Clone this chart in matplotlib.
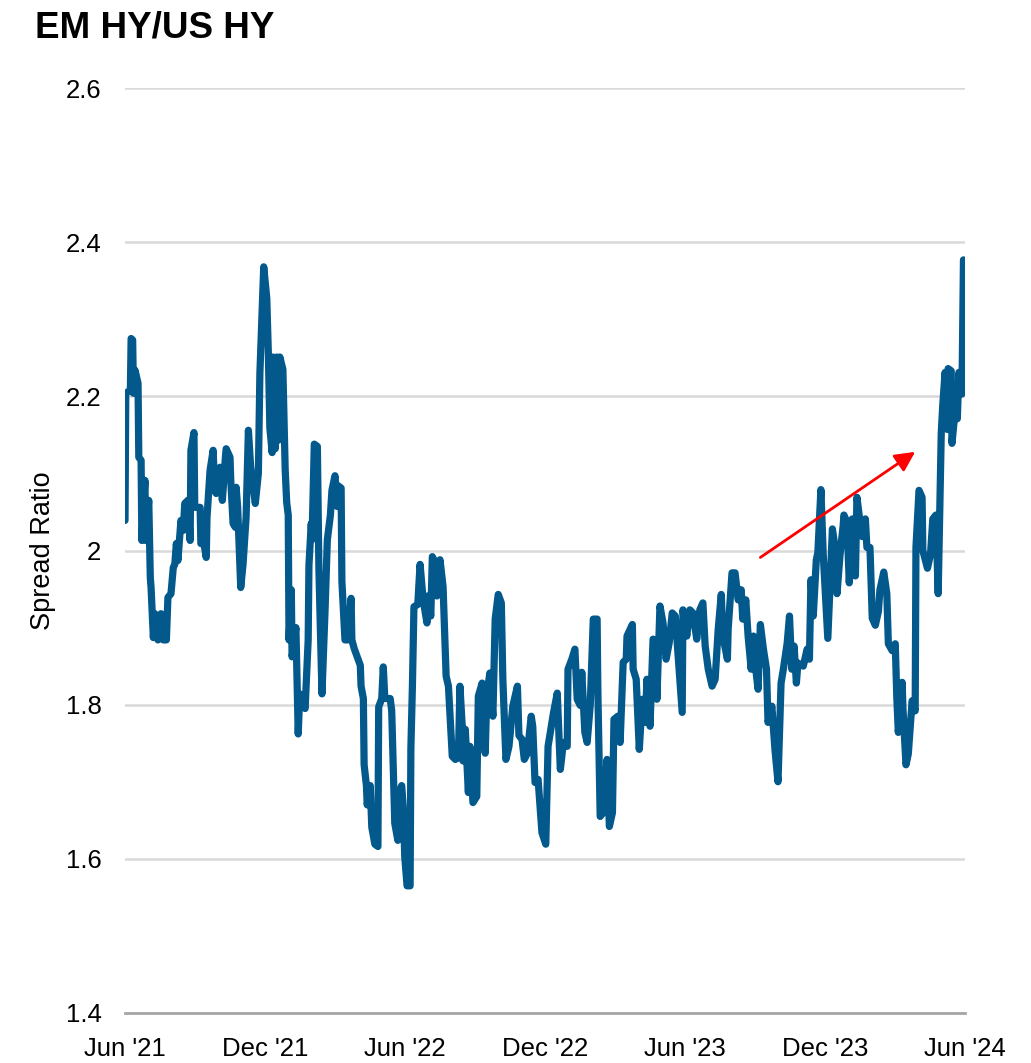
import matplotlib
matplotlib.use("Agg")
import matplotlib.pyplot as plt
import matplotlib.dates as mdates
import matplotlib.ticker as mticker
import pandas as pd

plt.rcParams['font.family'] = ['Liberation Sans', 'DejaVu Sans']

title = "EM HY/US HY"
y_label = "Spread Ratio"
start_date = "2021-06-01"

# day offsets from start_date
day_offset = [
    0, 1, 7, 8, 10, 11, 13, 17, 18, 21, 22, 26, 27, 31, 33, 34, 37, 39, 43, 47,
    50, 54, 56, 60, 63, 65, 67, 69, 73, 76, 78, 82, 85, 86, 90, 91, 98, 99, 103, 106,
    107, 111, 115, 117, 119, 121, 124, 127, 131, 132, 137, 138, 141, 144, 145, 147, 151, 154, 158, 161,
    164, 170,
    174, 176, 181, 185, 187, 189, 192, 193, 196, 198, 200, 202, 206, 209, 211, 213, 214, 217,
    218, 223, 226, 228, 235, 239, 240, 243, 244, 247, 251, 253, 257, 261, 264, 268, 270, 274,
    277, 278, 282, 283, 287, 291, 295, 296, 299, 303, 307, 308, 311, 312, 315, 316, 320, 322,
    326, 330, 331, 335, 337, 339, 346, 348, 352, 356, 359, 361, 363, 365, 368, 372, 373, 375, 377,
    382, 385, 389, 394, 395, 399, 401, 403, 407, 411, 415, 419, 422, 427, 431, 435, 437, 440,
    441, 444, 448, 450, 454, 459, 461, 466, 470, 472, 476, 480, 483, 487, 491, 493, 497, 501,
    506, 512, 514, 518, 521, 525, 530, 532, 535, 539, 544, 549, 552, 559, 564,
    568, 572, 577, 578, 583, 587, 590, 594, 596, 600, 603, 607, 611, 616, 617, 620, 624, 629,
    632, 636, 638, 643, 646, 650, 654, 655, 662, 663, 667, 671, 675, 679, 681, 685, 689, 692,
    694, 698, 702, 706, 710, 714, 718, 722, 727, 728, 733, 737, 741, 746, 750,
    754, 757, 761, 766, 770, 774, 778, 780, 786, 787, 792, 796, 800, 804, 806, 810, 813, 817,
    820, 823, 826, 829, 833, 837, 839, 844, 848, 852, 856, 859, 864, 867, 870, 873, 876, 878,
    885, 890, 893, 895, 898, 902, 904, 908,
    911, 917, 923, 927, 929, 933, 937, 938, 942, 945, 949, 953, 955, 959, 962, 966, 968, 972,
    975, 979, 983, 985, 990, 994, 996, 1001, 1005, 1007, 1009, 1014, 1015, 1019, 1022, 1027,
    1031, 1032, 1036, 1040, 1041, 1047, 1051, 1054, 1058, 1061, 1065, 1067, 1070, 1073, 1074,
    1078, 1079, 1083, 1086, 1088, 1092, 1094,
]

spread_ratio = [
    2.039, 2.204, 2.208, 2.275, 2.273, 2.204, 2.234, 2.217, 2.121, 2.117, 2.013, 2.091, 2.013, 2.065, 1.965, 1.952, 1.887, 1.918, 1.884, 1.918,
    1.884, 1.884, 1.939, 1.944, 1.978, 1.982, 2.009, 1.987, 2.039, 2.026, 2.061, 2.065, 2.013, 2.130, 2.153, 2.056, 2.056, 2.009, 2.009, 1.991,
    2.043, 2.104, 2.130, 2.078, 2.074, 2.104, 2.108, 2.065, 2.121, 2.132, 2.121, 2.091, 2.035, 2.030, 2.082, 2.056, 1.952, 1.982, 2.043, 2.156,
    2.108, 2.061,
    2.100, 2.230, 2.368, 2.327, 2.257, 2.159, 2.127, 2.251, 2.132, 2.251, 2.143, 2.251, 2.235, 2.105, 2.062, 2.046, 1.884, 1.949,
    1.862, 1.900, 1.762, 1.814, 1.795, 1.884, 1.981, 2.035, 2.014, 2.138, 2.135, 1.976, 1.814, 1.922, 2.014, 2.046, 2.078, 2.097,
    2.057, 2.084, 2.081, 1.960, 1.884, 1.884, 1.938, 1.884, 1.873, 1.862, 1.851, 1.824, 1.808, 1.722, 1.695, 1.670, 1.695, 1.641,
    1.619, 1.616, 1.797, 1.808, 1.849, 1.808, 1.808, 1.792, 1.646, 1.624, 1.689, 1.695, 1.668, 1.603, 1.565, 1.565, 1.743, 1.824, 1.927,
    1.930, 1.982, 1.936, 1.906, 1.941, 1.915, 1.992, 1.988, 1.941, 1.988, 1.953, 1.837, 1.824, 1.733, 1.729, 1.731, 1.824, 1.772,
    1.727, 1.768, 1.686, 1.746, 1.673, 1.681, 1.811, 1.828, 1.737, 1.811, 1.841, 1.785, 1.911, 1.943, 1.932, 1.833, 1.729, 1.746,
    1.798, 1.824, 1.760, 1.755, 1.729, 1.737, 1.785, 1.772, 1.699, 1.703, 1.634, 1.619, 1.746, 1.789, 1.815,
    1.716, 1.751, 1.746, 1.846, 1.859, 1.872, 1.807, 1.799, 1.842, 1.764, 1.751, 1.799, 1.911, 1.911, 1.816, 1.655, 1.660, 1.729,
    1.642, 1.660, 1.781, 1.785, 1.751, 1.855, 1.859, 1.889, 1.904, 1.846, 1.833, 1.742, 1.807, 1.777, 1.833, 1.772, 1.885, 1.880,
    1.807, 1.928, 1.906, 1.859, 1.880, 1.919, 1.915, 1.859, 1.790, 1.923, 1.889, 1.923, 1.919, 1.885, 1.923,
    1.932, 1.876, 1.846, 1.824, 1.833, 1.898, 1.943, 1.889, 1.859, 1.898, 1.971, 1.971, 1.936, 1.949, 1.911, 1.936, 1.889, 1.846,
    1.889, 1.846, 1.820, 1.904, 1.872, 1.846, 1.777, 1.798, 1.742, 1.700, 1.828, 1.846, 1.880, 1.915, 1.846, 1.876, 1.828, 1.854,
    1.850, 1.872, 1.859, 1.962, 1.915, 1.988, 1.997, 2.079,
    1.995, 1.886, 2.028, 2.000, 1.944, 1.995, 2.032, 2.046, 2.037, 1.958, 2.041, 1.967, 2.069, 2.037, 2.018, 2.041, 2.004, 2.004,
    1.912, 1.903, 1.921, 1.949, 1.972, 1.944, 1.879, 1.870, 1.879, 1.810, 1.764, 1.829, 1.796, 1.722, 1.736, 1.805,
    1.792, 2.004, 2.078, 2.069, 2.000, 1.977, 1.995, 2.041, 2.046, 1.944, 2.152, 2.189, 2.231, 2.157, 2.236,
    2.233, 2.139, 2.180, 2.171, 2.231, 2.203, 2.377,
]

x_ticks = ["2021-06-01", "2021-12-01", "2022-06-01", "2022-12-01", "2023-06-01", "2023-12-01", "2024-06-01"]
x_tick_labels = ["Jun '21", "Dec '21", "Jun '22", "Dec '22", "Jun '23", "Dec '23", "Jun '24"]
y_ticks = [1.4, 1.6, 1.8, 2.0, 2.2, 2.4, 2.6]

arrow_tail = ("2023-09-08", 1.991)
arrow_head = ("2024-03-28", 2.128)

dates = pd.Timestamp(start_date) + pd.to_timedelta(day_offset, unit="D")

fig = plt.figure(figsize=(10.31, 10.63), dpi=100)
ax = fig.add_axes([125 / 1031, 1 - 1013 / 1063, (965 - 125) / 1031, (1013 - 88) / 1063])

ax.plot(dates, spread_ratio, color="#03588C", lw=5.2, solid_joinstyle="round",
        solid_capstyle="round", zorder=3)

ax.set_xlim(pd.Timestamp(x_ticks[0]), pd.Timestamp(x_ticks[-1]))
ax.set_ylim(y_ticks[0], y_ticks[-1])
ax.set_xticks([pd.Timestamp(d) for d in x_ticks])
ax.set_xticklabels(x_tick_labels)
ax.set_yticks(y_ticks)
ax.yaxis.set_major_formatter(mticker.FuncFormatter(lambda v, p: f"{v:g}"))

ax.grid(axis="y", color="#d9d9d9", lw=1.8)
ax.set_axisbelow(True)
for s in ["top", "right", "left"]:
    ax.spines[s].set_visible(False)
ax.spines["bottom"].set_color("#a6a6a6")
ax.spines["bottom"].set_linewidth(2)
ax.tick_params(axis="both", length=0, labelsize=18.5, colors="black")
ax.tick_params(axis="y", pad=17)
ax.tick_params(axis="x", pad=17)

ax.set_ylabel(y_label, fontsize=19.5, labelpad=7)

ax.annotate("", xy=(pd.Timestamp(arrow_head[0]), arrow_head[1]),
            xytext=(pd.Timestamp(arrow_tail[0]), arrow_tail[1]),
            arrowprops=dict(arrowstyle="-|>", color="red", lw=2, mutation_scale=30,
                            shrinkA=0, shrinkB=0), zorder=4)

fig.text(35 / 1031, 1 - 37 / 1063, title, fontsize=26.5, fontweight="bold", ha="left", va="baseline")

fig.savefig("out.png", dpi=100)
